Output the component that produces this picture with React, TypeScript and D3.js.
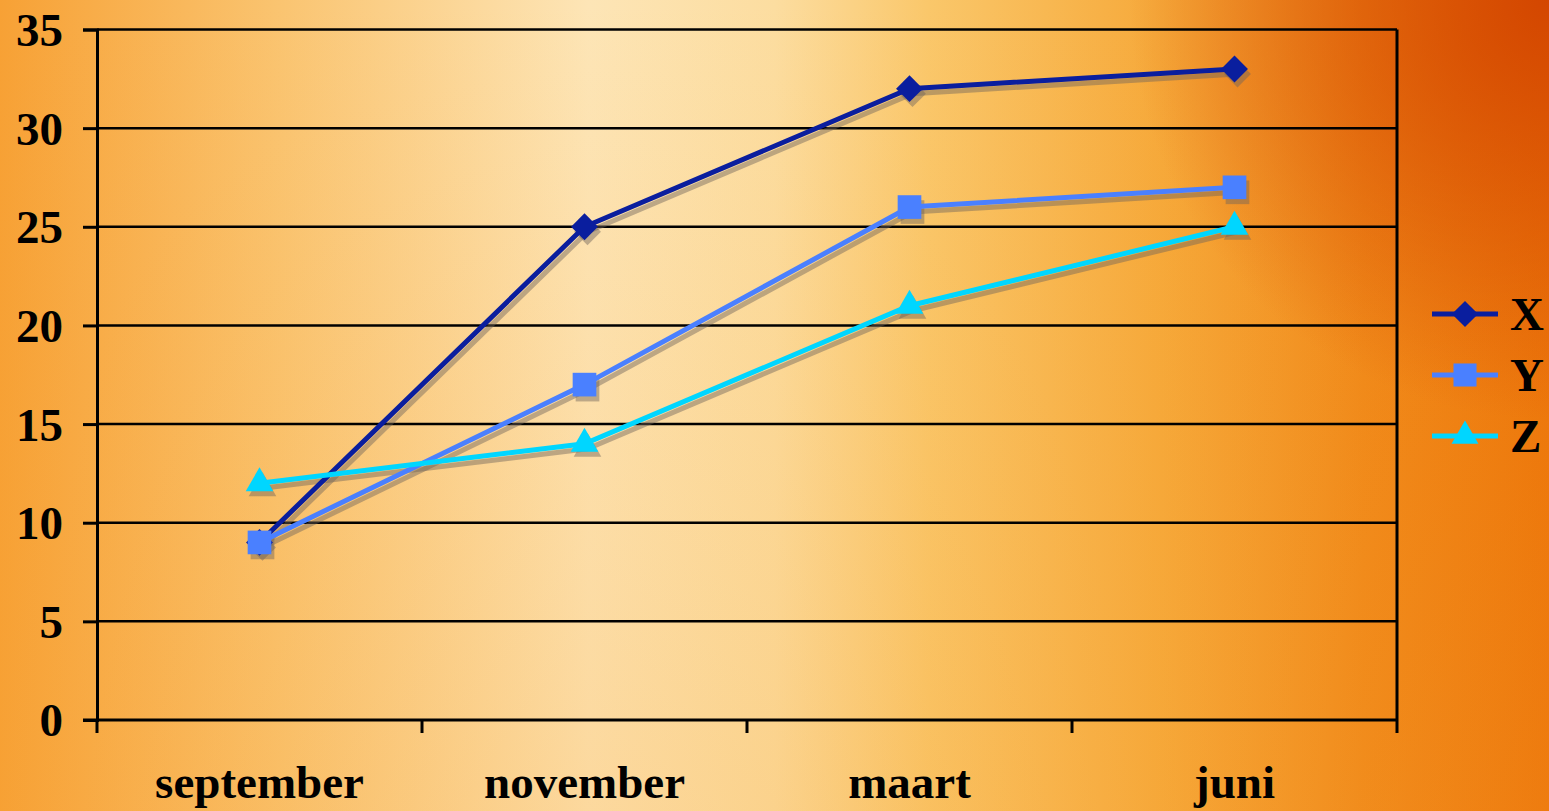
import React, { useEffect, useRef } from "react";
import * as d3 from "d3";

const categories = ["september", "november", "maart", "juni"];
const seriesX = [9, 25, 32, 33];
const seriesY = [9, 17, 26, 27];
const seriesZ = [12, 14, 21, 25];
const yTicks = [0, 5, 10, 15, 20, 25, 30, 35];

type Series = { name: string; values: number[]; color: string; symbol: d3.SymbolType; size: number };

const series: Series[] = [
  { name: "X", values: seriesX, color: "#0A1E9E", symbol: d3.symbolDiamond2, size: 460 },
  { name: "Y", values: seriesY, color: "#4A80FF", symbol: d3.symbolSquare, size: 560 },
  { name: "Z", values: seriesZ, color: "#00D6FF", symbol: d3.symbolTriangle, size: 330 },
];

export default function App() {
  const svgRef = useRef<SVGSVGElement>(null);

  useEffect(() => {
    if (!svgRef.current) return;
    const svg = d3.select(svgRef.current);
    svg.selectAll("*").remove();

    const width = 1549;
    const height = 811;
    const left = 97;
    const right = 1397;
    const top = 29.5;
    const bottom = 720;
    const font = "'Liberation Serif', 'Times New Roman', serif";

    // Background
    const defs = svg.append("defs");
    const bg = defs.append("linearGradient").attr("id", "bg").attr("x1", 0).attr("x2", 1).attr("y1", 0).attr("y2", 0);
    [
      [0, "#F7A135"],
      [0.18, "#FAC470"],
      [0.38, "#FDE5B6"],
      [0.5, "#FCDDA0"],
      [0.6, "#FAC76A"],
      [0.75, "#F6A93A"],
      [0.88, "#F08818"],
      [1, "#EC7408"],
    ].forEach(([o, c]) => bg.append("stop").attr("offset", o as number).attr("stop-color", c as string));

    const dark = defs.append("radialGradient").attr("id", "dark")
      .attr("gradientUnits", "userSpaceOnUse")
      .attr("cx", width).attr("cy", 0).attr("r", 420);
    dark.append("stop").attr("offset", 0).attr("stop-color", "#D24400").attr("stop-opacity", 0.95);
    dark.append("stop").attr("offset", 1).attr("stop-color", "#D24400").attr("stop-opacity", 0);

    const vert = defs.append("linearGradient").attr("id", "vert").attr("x1", 0).attr("x2", 0).attr("y1", 0).attr("y2", 1);
    vert.append("stop").attr("offset", 0).attr("stop-color", "#F7A030").attr("stop-opacity", 0);
    vert.append("stop").attr("offset", 1).attr("stop-color", "#F7A030").attr("stop-opacity", 0.18);

    svg.append("rect").attr("width", width).attr("height", height).attr("fill", "url(#bg)");
    svg.append("rect").attr("width", width).attr("height", height).attr("fill", "url(#vert)");
    svg.append("rect").attr("width", width).attr("height", height).attr("fill", "url(#dark)");

    // Scales
    const x = d3.scaleBand<string>().domain(categories).range([left, right]).padding(0);
    const y = d3.scaleLinear().domain([0, 35]).range([bottom, top]);
    const cx = (c: string) => (x(c) ?? 0) + x.bandwidth() / 2;

    // Gridlines
    svg.append("g")
      .selectAll("line")
      .data(yTicks.filter((t) => t > 0))
      .join("line")
      .attr("x1", left)
      .attr("x2", right)
      .attr("y1", (d) => y(d))
      .attr("y2", (d) => y(d))
      .attr("stroke", "#000")
      .attr("stroke-width", 2.5);

    // Right border
    svg.append("line")
      .attr("x1", right).attr("x2", right)
      .attr("y1", top).attr("y2", bottom + 13)
      .attr("stroke", "#000").attr("stroke-width", 3);

    // Y axis
    const yAxis = svg.append("g")
      .attr("transform", `translate(${left},0)`)
      .call(d3.axisLeft(y).tickValues(yTicks).tickSize(14).tickPadding(20));
    yAxis.select(".domain").attr("stroke", "#000").attr("stroke-width", 3);
    yAxis.selectAll(".tick line").attr("stroke", "#000").attr("stroke-width", 3);
    yAxis.selectAll(".tick text")
      .attr("fill", "#000")
      .attr("dy", "0.34em")
      .style("font-family", font)
      .style("font-weight", "bold")
      .style("font-size", "47px");

    // X axis
    const xAxis = svg.append("g")
      .attr("transform", `translate(0,${bottom})`)
      .call(d3.axisBottom(x).tickSize(0).tickPadding(0));
    xAxis.select(".domain").remove();
    xAxis.selectAll(".tick text")
      .attr("fill", "#000")
      .attr("y", 78)
      .attr("dy", 0)
      .style("font-family", font)
      .style("font-weight", "bold")
      .style("font-size", "47px");
    svg.append("line")
      .attr("x1", left - 14).attr("x2", right)
      .attr("y1", bottom).attr("y2", bottom)
      .attr("stroke", "#000").attr("stroke-width", 3);
    svg.append("g")
      .selectAll("line")
      .data(categories)
      .join("line")
      .attr("x1", (d) => x(d) ?? 0)
      .attr("x2", (d) => x(d) ?? 0)
      .attr("y1", bottom)
      .attr("y2", bottom + 13)
      .attr("stroke", "#000")
      .attr("stroke-width", 3);

    // Lines
    const line = d3.line<number>()
      .x((_, i) => cx(categories[i]))
      .y((d) => y(d));

    const shadowColor = "rgba(110,100,90,0.45)";
    // shadows first
    series.forEach((s) => {
      const g = svg.append("g").attr("transform", "translate(3,5)");
      g.append("path").datum(s.values).attr("d", line).attr("fill", "none")
        .attr("stroke", shadowColor).attr("stroke-width", 5);
      g.selectAll("path.m").data(s.values).join("path").attr("class", "m")
        .attr("transform", (d, i) => `translate(${cx(categories[i])},${y(d)})`)
        .attr("d", d3.symbol().type(s.symbol).size(s.size)())
        .attr("fill", shadowColor);
    });
    series.forEach((s) => {
      const g = svg.append("g");
      g.append("path").datum(s.values).attr("d", line).attr("fill", "none")
        .attr("stroke", s.color).attr("stroke-width", 5);
      g.selectAll("path.m").data(s.values).join("path").attr("class", "m")
        .attr("transform", (d, i) => `translate(${cx(categories[i])},${y(d)})`)
        .attr("d", d3.symbol().type(s.symbol).size(s.size)())
        .attr("fill", s.color);
    });

    // Legend
    const legend = svg.append("g").attr("transform", "translate(1432,314)");
    series.forEach((s, i) => {
      const row = legend.append("g").attr("transform", `translate(0,${i * 61})`);
      row.append("line").attr("x1", 0).attr("x2", 66).attr("y1", 0).attr("y2", 0)
        .attr("stroke", s.color).attr("stroke-width", 5);
      row.append("path").attr("transform", "translate(33,0)")
        .attr("d", d3.symbol().type(s.symbol).size(s.size * 0.95)())
        .attr("fill", s.color);
      row.append("text").attr("x", 78).attr("y", 0).attr("dy", "0.34em")
        .attr("fill", "#000")
        .style("font-family", font)
        .style("font-weight", "bold")
        .style("font-size", "47px")
        .text(s.name);
    });
  }, []);

  return (
    <svg
      ref={svgRef}
      width={1549}
      height={811}
      style={{ display: "block", position: "absolute", left: 0, top: 0 }}
    />
  );
}
